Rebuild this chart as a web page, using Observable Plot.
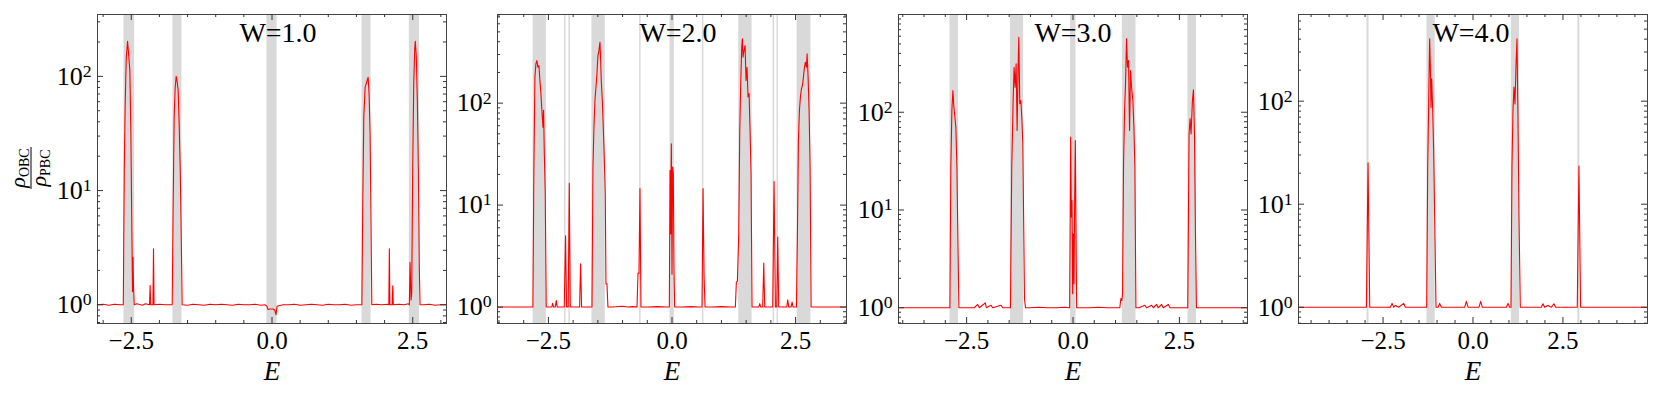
<!DOCTYPE html>
<html><head><meta charset="utf-8">
<script src="https://cdn.jsdelivr.net/npm/d3@7"></script>
<script src="https://cdn.jsdelivr.net/npm/@observablehq/plot@0.6"></script>
<style>
body{margin:0;background:#fff;}
#wrap{position:relative;width:1661px;height:400px;font-family:"Liberation Serif",serif;}
#wrap svg{position:absolute;top:0;overflow:visible;max-width:none;}
#wrap svg text{font-family:"Liberation Serif",serif;}
</style></head><body><div id="wrap"></div>
<script>
// ---- data ----
const titles = ["W=1.0", "W=2.0", "W=3.0", "W=4.0"];
const xDomains = [[-3.1, 3.1], [-3.53, 3.53], [-4.1, 4.1], [-4.85, 4.85]];
const yDomains = [[0.686, 348], [0.69, 740], [0.69, 1000], [0.695, 694]];
const xMajor = [-2.5, 0, 2.5];
const xMinor = [-4.5, -4, -3.5, -3, -2, -1.5, -1, -0.5, 0.5, 1, 1.5, 2, 3, 3.5, 4, 4.5];
const yMajor = [1, 10, 100];
const yMinor = [0.7, 0.8, 0.9, 2, 3, 4, 5, 6, 7, 8, 9, 20, 30, 40, 50, 60, 70, 80, 90, 200, 300, 400, 500, 600, 700, 800, 900];

const bands1 = [[-2.63, -2.44], [-1.76, -1.60], [-0.09, 0.09], [1.60, 1.76], [2.44, 2.62]];
const bands2 = [[-2.81, -2.54], [-2.175, -2.145], [-2.085, -2.055], [-1.62, -1.35], [-0.655, -0.625], [-0.04, 0.047], [0.615, 0.645], [1.35, 1.62], [2.045, 2.075], [2.125, 2.155], [2.53, 2.81]];
const bands3 = [[-2.89, -2.69], [-1.47, -1.16], [-0.06, 0.07], [1.16, 1.48], [2.70, 2.90]];
const bands4 = [[-2.945, -2.89], [-1.28, -1.05], [1.065, 1.295], [2.915, 2.97]];

const spectrum1 = [[-3.10,1.00],[-3.00,1.01],[-2.90,0.99],[-2.80,1.01],[-2.70,1.00],[-2.642,1.00],[-2.637,2.1],[-2.624,16],[-2.607,61],[-2.589,147],[-2.566,203],[-2.548,158],[-2.525,112],[-2.507,31],[-2.489,4.2],[-2.478,1.3],[-2.470,2.6],[-2.459,1.4],[-2.447,1.0],[-2.40,1.02],[-2.30,0.99],[-2.25,1.02],[-2.175,1.0],[-2.165,1.48],[-2.155,1.0],[-2.115,1.0],[-2.105,3.1],[-2.095,1.0],[-2.00,1.01],[-1.90,1.0],[-1.80,1.0],[-1.773,1.0],[-1.755,8.2],[-1.738,44],[-1.720,80],[-1.702,100],[-1.684,89],[-1.667,75],[-1.649,38],[-1.631,16],[-1.613,4.2],[-1.596,1.0],[-1.50,0.99],[-1.40,1.01],[-1.30,1.0],[-1.20,0.99],[-1.10,1.01],[-1.00,1.0],[-0.90,1.01],[-0.80,1.0],[-0.70,0.99],[-0.60,1.01],[-0.50,1.0],[-0.40,1.0],[-0.30,1.01],[-0.20,0.99],[-0.12,1.0],[-0.089,0.97],[-0.071,0.91],[-0.03,0.92],[0.018,0.92],[0.047,0.90],[0.071,0.82],[0.089,0.97],[0.12,0.98],[0.20,1.0],[0.30,1.0],[0.40,1.01],[0.50,0.99],[0.60,1.0],[0.70,1.01],[0.80,1.0],[0.90,0.99],[1.00,1.01],[1.10,1.0],[1.20,1.0],[1.30,1.01],[1.40,0.99],[1.50,1.0],[1.596,1.0],[1.613,8.2],[1.631,44],[1.654,80],[1.672,86],[1.690,92],[1.707,98],[1.725,70],[1.743,31],[1.755,8.2],[1.773,1.0],[1.85,1.01],[1.95,1.0],[2.05,1.01],[2.075,1.0],[2.085,3.1],[2.095,1.0],[2.135,1.0],[2.145,1.47],[2.155,1.0],[2.25,1.01],[2.35,1.0],[2.42,1.02],[2.44,1.0],[2.452,2.36],[2.47,1.1],[2.482,1.25],[2.50,16],[2.518,86],[2.535,174],[2.546,203],[2.564,147],[2.582,61],[2.60,16],[2.617,2.1],[2.63,1.0],[2.70,1.0],[2.80,1.01],[2.90,0.99],[3.00,1.0],[3.10,1.0]];

const spectrum2 = [[-3.53,1.0],[-3.30,1.0],[-3.10,1.0],[-2.95,1.0],[-2.814,1.0],[-2.794,23.6],[-2.773,180],[-2.753,243],[-2.733,262],[-2.713,225],[-2.692,234],[-2.672,167],[-2.652,124],[-2.632,85],[-2.611,58],[-2.598,85],[-2.584,34],[-2.564,12.9],[-2.544,1.0],[-2.50,1.0],[-2.430,1.0],[-2.416,1.09],[-2.395,1.0],[-2.362,1.0],[-2.341,1.16],[-2.321,1.0],[-2.180,1.0],[-2.153,5.0],[-2.133,1.0],[-2.100,1.0],[-2.078,16.4],[-2.058,1.0],[-1.869,1.0],[-1.849,2.66],[-1.829,1.0],[-1.653,1.0],[-1.619,1.0],[-1.599,23.6],[-1.579,58],[-1.559,106],[-1.538,143],[-1.518,194],[-1.498,293],[-1.478,328],[-1.457,396],[-1.444,262],[-1.431,167],[-1.410,106],[-1.390,58],[-1.370,29.5],[-1.350,12.9],[-1.336,1.69],[-1.316,1.69],[-1.296,1.0],[-1.20,1.0],[-1.00,1.02],[-0.90,1.0],[-0.80,1.01],[-0.708,1.0],[-0.688,2.15],[-0.668,2.15],[-0.648,14.5],[-0.628,1.0],[-0.50,1.0],[-0.30,1.01],[-0.10,1.0],[-0.054,1.0],[-0.040,21.9],[-0.027,5.2],[-0.013,40],[0.000,2.1],[0.013,23.6],[0.027,20.3],[0.040,2.47],[0.054,1.0],[0.20,1.0],[0.40,1.01],[0.55,1.0],[0.607,1.0],[0.628,14.5],[0.648,2.1],[0.668,1.0],[0.80,1.0],[1.00,1.01],[1.20,1.0],[1.282,1.0],[1.302,1.76],[1.323,1.8],[1.350,5.2],[1.370,50],[1.390,155],[1.410,354],[1.424,427],[1.437,282],[1.457,328],[1.478,367],[1.498,167],[1.518,225],[1.538,115],[1.559,124],[1.579,54],[1.599,20.3],[1.619,1.0],[1.70,1.0],[1.754,1.0],[1.775,1.08],[1.795,1.0],[1.835,1.0],[1.856,2.7],[1.876,1.0],[2.038,1.0],[2.065,17],[2.092,1.0],[2.119,1.0],[2.139,4.86],[2.159,1.0],[2.321,1.0],[2.341,1.18],[2.362,1.0],[2.409,1.0],[2.429,1.12],[2.449,1.0],[2.517,1.0],[2.537,5.2],[2.557,43],[2.578,85],[2.598,115],[2.618,138],[2.638,149],[2.659,180],[2.679,225],[2.699,252],[2.720,225],[2.733,305],[2.753,180],[2.773,85],[2.794,23.6],[2.814,1.0],[2.90,1.0],[3.10,1.0],[3.30,1.0],[3.53,1.0]];

const spectrum3 = [[-4.10,1.0],[-3.80,1.0],[-3.50,1.0],[-3.20,1.0],[-2.95,1.0],[-2.893,1.0],[-2.870,27.4],[-2.846,104],[-2.822,167],[-2.799,113],[-2.775,89],[-2.752,70],[-2.728,27.4],[-2.704,4.9],[-2.681,1.0],[-2.50,1.0],[-2.319,1.0],[-2.240,1.08],[-2.200,1.0],[-2.060,1.12],[-2.036,1.0],[-1.926,1.06],[-1.887,1.0],[-1.690,1.06],[-1.651,1.0],[-1.50,1.0],[-1.470,1.0],[-1.439,27.4],[-1.407,132],[-1.384,289],[-1.360,180],[-1.336,313],[-1.313,65],[-1.289,289],[-1.274,586],[-1.250,122],[-1.226,132],[-1.203,89],[-1.179,47.5],[-1.156,5.7],[-1.140,1.24],[-1.116,1.0],[-1.00,1.0],[-0.80,1.01],[-0.60,1.0],[-0.40,1.0],[-0.20,1.01],[-0.09,1.0],[-0.079,1.0],[-0.055,55.6],[-0.039,8.5],[-0.024,12.5],[-0.008,1.39],[0.008,5.7],[0.024,1.76],[0.039,12.5],[0.055,51.4],[0.071,5.7],[0.086,1.0],[0.20,1.0],[0.40,1.0],[0.60,1.01],[0.80,1.0],[1.00,1.0],[1.100,1.0],[1.124,1.24],[1.148,1.19],[1.164,1.39],[1.187,27.4],[1.211,104],[1.234,195],[1.258,563],[1.281,289],[1.305,338],[1.329,65],[1.352,267],[1.376,180],[1.407,132],[1.431,70],[1.454,27.4],[1.478,1.0],[1.55,1.0],[1.690,1.06],[1.730,1.0],[1.847,1.06],[1.887,1.0],[1.965,1.08],[2.000,1.0],[2.083,1.08],[2.120,1.0],[2.240,1.08],[2.280,1.0],[2.50,1.0],[2.696,1.0],[2.727,60],[2.751,86],[2.774,60],[2.806,132],[2.830,170],[2.854,60],[2.877,5.9],[2.901,1.0],[3.20,1.0],[3.50,1.0],[3.80,1.0],[4.10,1.0]];

const spectrum4 = [[-4.85,1.0],[-4.50,1.0],[-4.00,1.0],[-3.50,1.0],[-3.00,1.0],[-2.963,1.0],[-2.917,25.2],[-2.870,1.0],[-2.50,1.0],[-2.296,1.0],[-2.250,1.09],[-2.204,1.0],[-2.157,1.04],[-2.065,1.0],[-1.926,1.09],[-1.880,1.0],[-1.50,1.0],[-1.324,1.0],[-1.287,1.0],[-1.259,22.9],[-1.231,101],[-1.204,403],[-1.185,214],[-1.167,87],[-1.148,165],[-1.120,81],[-1.093,33],[-1.065,7.5],[-1.028,1.0],[-0.972,1.0],[-0.926,1.09],[-0.880,1.0],[-0.60,1.0],[-0.231,1.0],[-0.185,1.14],[-0.139,1.0],[0.167,1.0],[0.213,1.14],[0.259,1.0],[0.60,1.0],[0.926,1.0],[0.972,1.09],[1.019,1.0],[1.056,1.0],[1.083,22.9],[1.111,81],[1.139,137],[1.167,94],[1.194,214],[1.222,403],[1.250,70],[1.278,7.5],[1.315,1.0],[1.60,1.0],[1.898,1.0],[1.944,1.08],[1.991,1.0],[2.083,1.04],[2.176,1.0],[2.250,1.08],[2.296,1.0],[2.898,1.0],[2.944,23.4],[2.991,1.0],[3.50,1.0],[4.00,1.0],[4.50,1.0],[4.85,1.0]];

const spectra = [spectrum1, spectrum2, spectrum3, spectrum4];
const bandsList = [bands1, bands2, bands3, bands4];

// ---- layout ----
const frameLeft = [97, 497, 898, 1298];
const titleDx = [6, 6, 0, -2];
const ML = 70, MR = 10, MT = 14, MB = 77, FW = 349, FH = 309;
const W = ML + FW + MR, H = MT + FH + MB;
const tickColor = "#333";
const fontFam = '"Liberation Serif", serif';
const fmtX = d => (d < 0 ? "\u2212" : "") + Math.abs(d).toFixed(1);

const wrap = document.getElementById("wrap");

function makePanel(k) {
  const xd = xDomains[k], yd = yDomains[k];
  const inX = v => v > xd[0] && v < xd[1];
  const inY = v => v > yd[0] && v < yd[1];
  const xM = xMajor.filter(inX), xm = xMinor.filter(inX);
  const yM = yMajor.filter(inY), ym = yMinor.filter(inY);
  const big = 6, small = 3;
  const plot = Plot.plot({
    width: W, height: H,
    marginLeft: ML, marginRight: MR, marginTop: MT, marginBottom: MB,
    style: {fontFamily: fontFam, fontSize: "24px", color: "#000", background: "transparent", overflow: "visible"},
    x: {type: "linear", domain: xd},
    y: {type: "log", domain: yd},
    marks: [
      Plot.rect(bandsList[k], {x1: d => d[0], x2: d => d[1], y1: () => yd[0], y2: () => yd[1], fill: "#d9d9d9"}),
      Plot.line(spectra[k], {x: d => d[0], y: d => d[1], stroke: "#ff0000", strokeWidth: 1.1, clip: true}),
      Plot.frame({stroke: "#444", strokeWidth: 1}),
      Plot.ruleX(xM, {x: d => d, insetTop: FH - big, stroke: tickColor}),
      Plot.ruleX(xM, {x: d => d, insetBottom: FH - big, stroke: tickColor}),
      Plot.ruleX(xm, {x: d => d, insetTop: FH - small, stroke: tickColor}),
      Plot.ruleX(xm, {x: d => d, insetBottom: FH - small, stroke: tickColor}),
      Plot.ruleY(yM, {y: d => d, insetRight: FW - big, stroke: tickColor}),
      Plot.ruleY(yM, {y: d => d, insetLeft: FW - big, stroke: tickColor}),
      Plot.ruleY(ym, {y: d => d, insetRight: FW - small, stroke: tickColor}),
      Plot.ruleY(ym, {y: d => d, insetLeft: FW - small, stroke: tickColor}),
      Plot.axisX({ticks: xM, tickSize: 0, tickPadding: 8, tickFormat: fmtX, label: null, fontSize: 25, fontFamily: fontFam}),
      Plot.axisY({ticks: yM, tickSize: 0, tickPadding: 6, tickFormat: d => String(Math.round(Math.log10(d))), label: null, fontSize: 26, fontFamily: fontFam}),
      Plot.text([titles[k]], {text: d => d, frameAnchor: "top", lineAnchor: "middle", dy: 19, dx: titleDx[k], fontSize: 28, fontFamily: fontFam}),
      Plot.text(["E"], {text: d => d, frameAnchor: "bottom", lineAnchor: "middle", dy: 48, fontSize: 27, fontStyle: "italic", fontFamily: fontFam})
    ]
  });
  plot.style.left = (frameLeft[k] - ML) + "px";
  plot.style.top = "0px";
  plot.setAttribute("font-family", fontFam);
  wrap.appendChild(plot);
  d3.select(plot).selectAll("g").filter(function () { return this.hasAttribute("font-family"); }).attr("font-family", fontFam);
  d3.select(plot).selectAll("text").attr("font-family", fontFam);
  // superscript exponents on the log-axis labels
  d3.select(plot).selectAll('g[aria-label="y-axis tick label"] text').each(function () {
    const e = this.textContent;
    this.textContent = "10";
    d3.select(this).append("tspan").attr("dy", "-0.45em").attr("font-size", "0.68em").text(e);
  });
}

for (let k = 0; k < 4; k++) makePanel(k);

// y-axis label: rho_OBC / rho_PBC (rotated fraction)
const lab = d3.create("svg").attr("width", 97).attr("height", 400)
  .style("left", "0px").style("top", "0px")
  .attr("font-family", fontFam);
const g = lab.append("g").attr("transform", "translate(31,168) rotate(-90)");
g.append("line").attr("x1", -21).attr("x2", 21).attr("y1", 0).attr("y2", 0).attr("stroke", "#000").attr("stroke-width", 1);
const num = g.append("text").attr("x", 0).attr("y", -6).attr("text-anchor", "middle").attr("font-size", 22);
num.append("tspan").attr("font-style", "italic").text("ρ");
num.append("tspan").attr("font-size", 14).attr("dy", 4).text("OBC");
const den = g.append("text").attr("x", 0).attr("y", 15).attr("text-anchor", "middle").attr("font-size", 22);
den.append("tspan").attr("font-style", "italic").text("ρ");
den.append("tspan").attr("font-size", 14).attr("dy", 4).text("PBC");
wrap.appendChild(lab.node());
</script>
</body></html>
